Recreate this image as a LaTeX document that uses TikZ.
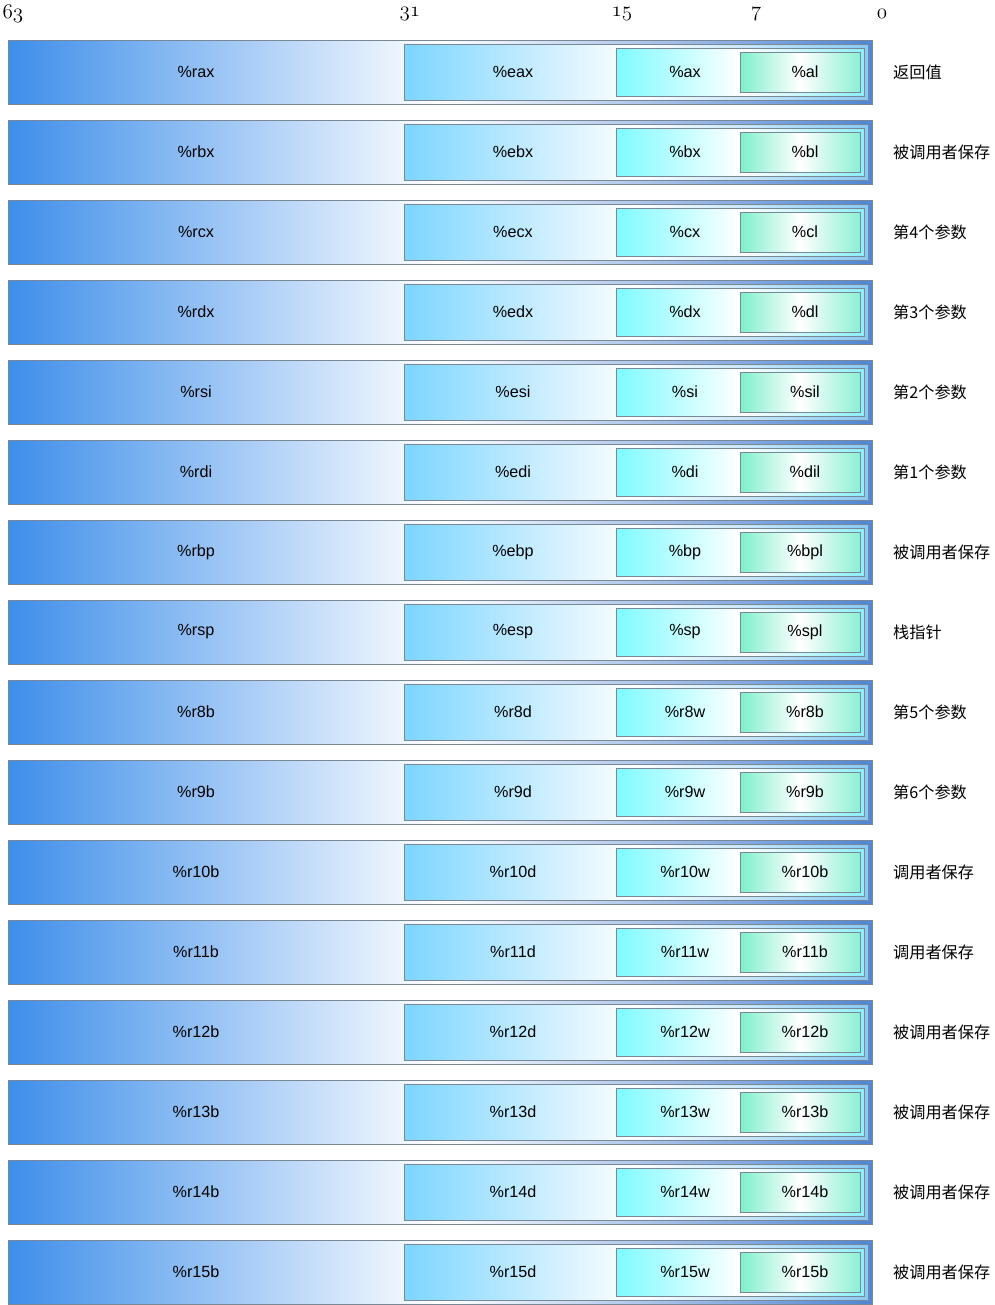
\documentclass[tikz,border=0pt]{standalone}
\usepackage{fontspec}
\setmainfont{Liberation Sans}
\newfontfamily\cjk{Noto Sans CJK SC}
\definecolor{qcol}{HTML}{3D8EEA}
\definecolor{qend}{HTML}{4F86D6}
\definecolor{dcol}{HTML}{7DD5FF}
\definecolor{dend}{HTML}{88CBF4}
\definecolor{wcol}{HTML}{7EFBFF}
\definecolor{wend}{HTML}{8CEFF8}
\definecolor{bcol}{HTML}{7FEFCB}
\definecolor{bend}{HTML}{8EF0D4}
\definecolor{edge}{HTML}{7A8896}
\tikzset{
  regbox/.style={draw=edge,line width=0.55pt},
  qreg/.style={regbox,left color=qcol,right color=qend,middle color=white},
  dreg/.style={regbox,left color=dcol,right color=dend,middle color=white},
  wreg/.style={regbox,left color=wcol,right color=wend,middle color=white},
  breg/.style={regbox,left color=bcol,right color=bend,middle color=white},
  bitno/.style={font=\fontsize{12}{14}\selectfont},
  note/.style={anchor=west,font=\cjk\fontsize{9.2}{11}\selectfont}
}
\begin{document}
\begin{tikzpicture}[x=0.02cm,y=0.02cm,font=\fontsize{9.2}{11}\selectfont]
\useasboundingbox (0,0) rectangle (994,-1305);
% bit numbers
\node[bitno] (n63) at (13,-14) {$\mathnormal{63}$};
\node[bitno] (n31) at (410,-14) {$\mathnormal{31}$};
\node[bitno] (n15) at (622,-14) {$\mathnormal{15}$};
\node[bitno] (n7) at (756,-14) {$\mathnormal{7}$};
\node[bitno] (n0) at (882,-14) {$\mathnormal{0}$};
% registers
\foreach \q/\d/\w/\b/\txt [count=\i from 0] in {
  rax/eax/ax/al/返回值,
  rbx/ebx/bx/bl/被调用者保存,
  rcx/ecx/cx/cl/第4个参数,
  rdx/edx/dx/dl/第3个参数,
  rsi/esi/si/sil/第2个参数,
  rdi/edi/di/dil/第1个参数,
  rbp/ebp/bp/bpl/被调用者保存,
  rsp/esp/sp/spl/栈指针,
  r8b/r8d/r8w/r8b/第5个参数,
  r9b/r9d/r9w/r9b/第6个参数,
  r10b/r10d/r10w/r10b/调用者保存,
  r11b/r11d/r11w/r11b/调用者保存,
  r12b/r12d/r12w/r12b/被调用者保存,
  r13b/r13d/r13w/r13b/被调用者保存,
  r14b/r14d/r14w/r14b/被调用者保存,
  r15b/r15d/r15w/r15b/被调用者保存}{
  \pgfmathsetmacro{\top}{-40-80*\i}
  \draw[qreg] (8,\top) rectangle (872,\top-64);
  \draw[dreg] (404,\top-4) rectangle (868,\top-60);
  \draw[wreg] (616,\top-8) rectangle (864,\top-56);
  \draw[breg] (740,\top-12) rectangle (860,\top-52);
  \node (q\i) at (196,\top-32) {\%\q};
  \node (d\i) at (513,\top-32) {\%\d};
  \node (w\i) at (685,\top-32) {\%\w};
  \node (b\i) at (805,\top-32) {\%\b};
  \node[note] (c\i) at (887,\top-32) {\txt};
}
\end{tikzpicture}
\end{document}
